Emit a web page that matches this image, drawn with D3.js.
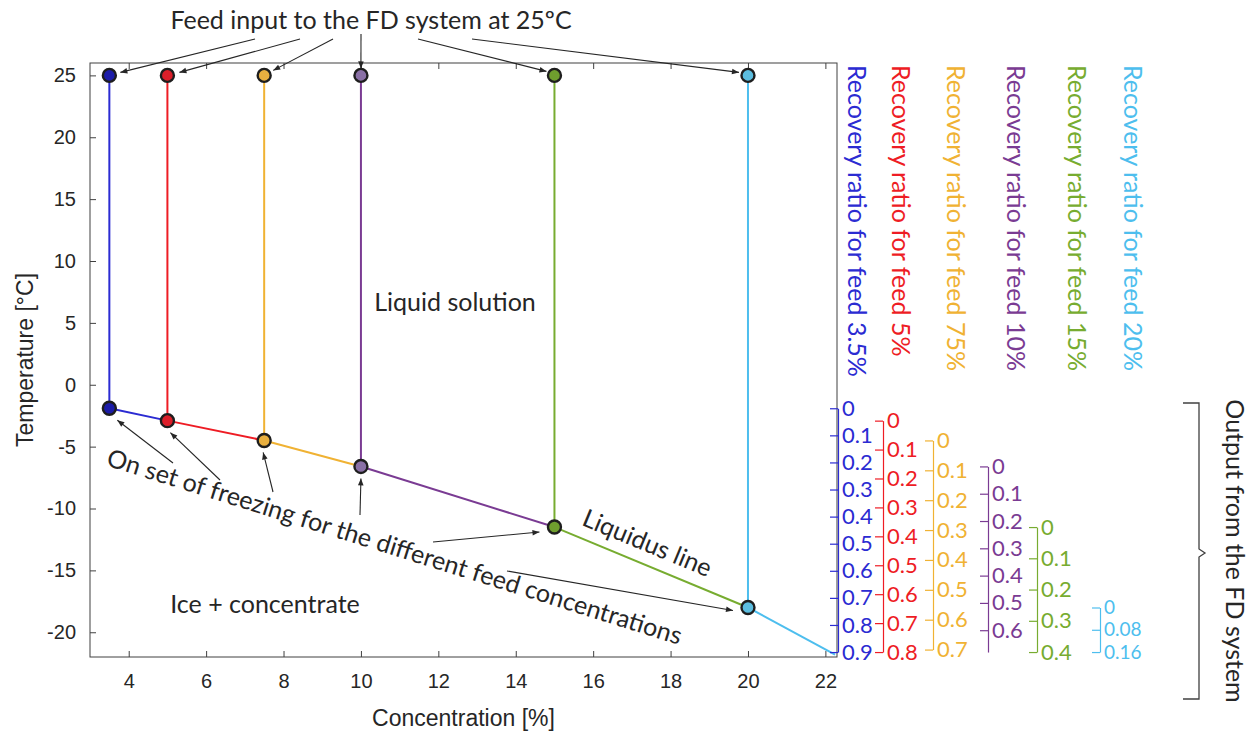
<!DOCTYPE html>
<meta charset="utf-8">
<style>
body { margin: 0; background: #fff; }
svg text { font-family: Lato, "Open Sans", sans-serif; }
.main-axis text { font-family: "Liberation Sans", Arial, sans-serif; font-size: 20px; fill: #262626; }
.main-axis path, .main-axis line { stroke: #404040; }
.ratio-axis text { font-family: Lato, sans-serif; font-size: 22px; }
.annot { font-size: 25px; fill: #262626; }
.arrow { stroke: #262626; stroke-width: 1.1; fill: none; }
</style>
<body>
<svg id="chart" width="1255" height="732"></svg>

<script src="https://d3js.org/d3.v7.min.js"></script>
<script>
// feeds entering the freeze desalination system at 25 C
var feedConc = [3.5, 5, 7.5, 10, 15, 20];
var feedNames = ["3.5%", "5%", "75%", "10%", "15%", "20%"];
var feedTemp = 25;
// onset of freezing (points on the liquidus line)
var freezeTemp = [-1.9, -2.9, -4.5, -6.6, -11.5, -18.0];
var liquidusEnd = [22.25, -21.8];

var xTicks = [4, 6, 8, 10, 12, 14, 16, 18, 20, 22];
var yTicks = [-20, -15, -10, -5, 0, 5, 10, 15, 20, 25];

// recovery ratio axes, one per feed
var ratioTicks = [
  [0, 0.1, 0.2, 0.3, 0.4, 0.5, 0.6, 0.7, 0.8, 0.9],
  [0, 0.1, 0.2, 0.3, 0.4, 0.5, 0.6, 0.7, 0.8],
  [0, 0.1, 0.2, 0.3, 0.4, 0.5, 0.6, 0.7],
  [0, 0.1, 0.2, 0.3, 0.4, 0.5, 0.6],
  [0, 0.1, 0.2, 0.3, 0.4],
  [0, 0.08, 0.16]
];
var ratioAxisMax = [0.9, 0.8, 0.7, 0.68, 0.4, 0.16];
var ratioAxisEndTemp = [-21.6, -21.6, -21.4, -21.6, -21.6, -21.6];

var colors = ["#2b2bd2", "#ee1c24", "#f0b233", "#7a3b93", "#77ac30", "#4dbeee"];
var markerFill = ["#1c1ca8", "#dc1f2a", "#e9b040", "#8a70a6", "#6f9e2e", "#5cbddf"];
var ratioFont = [22, 22, 22, 22, 22, 19];

var margin = {top: 63, left: 90},
    width = 747,
    height = 594;

var svg = d3.select("#chart");

var x = d3.scaleLinear().domain([3, 22.3]).range([margin.left, margin.left + width]);
var y = d3.scaleLinear().domain([-22, 26]).range([margin.top + height, margin.top]);

svg.append("defs").append("marker")
    .attr("id", "head")
    .attr("viewBox", "0 -5 10 10")
    .attr("refX", 10).attr("refY", 0)
    .attr("markerWidth", 9).attr("markerHeight", 7)
    .attr("markerUnits", "userSpaceOnUse")
    .attr("orient", "auto")
  .append("path")
    .attr("d", "M0,-4L10,0L0,4Z")
    .attr("fill", "#262626");

// plot box
svg.append("rect")
    .attr("x", margin.left).attr("y", margin.top)
    .attr("width", width).attr("height", height)
    .attr("fill", "none").attr("stroke", "#404040");

svg.append("g")
    .attr("class", "main-axis")
    .attr("transform", "translate(0," + (margin.top + height) + ")")
    .call(d3.axisBottom(x).tickValues(xTicks).tickSizeInner(-6).tickSizeOuter(0).tickPadding(17)
      .tickFormat(d => String(d)));

svg.append("g")
    .attr("class", "main-axis")
    .attr("transform", "translate(0," + margin.top + ")")
    .call(d3.axisTop(x).tickValues(xTicks).tickSizeInner(-6).tickSizeOuter(0).tickFormat(""));

svg.append("g")
    .attr("class", "main-axis")
    .attr("transform", "translate(" + margin.left + ",0)")
    .call(d3.axisLeft(y).tickValues(yTicks).tickSizeInner(-6).tickSizeOuter(0).tickPadding(14)
      .tickFormat(d => String(d)));

svg.selectAll(".main-axis .domain").remove();

svg.append("text")
    .attr("x", margin.left + width / 2).attr("y", 726)
    .attr("text-anchor", "middle")
    .style("font-family", "Liberation Sans, Arial")
    .style("font-size", "23px").style("fill", "#262626")
    .text("Concentration [%]");

svg.append("text")
    .attr("transform", "translate(33," + (margin.top + height / 2) + ") rotate(-90)")
    .attr("text-anchor", "middle")
    .style("font-family", "Liberation Sans, Arial")
    .style("font-size", "23px").style("fill", "#262626")
    .text("Temperature [\u00B0C]");

// vertical cooling lines from the feed down to the liquidus
svg.selectAll(".feedline")
    .data(feedConc)
  .enter().append("line")
    .attr("class", "feedline")
    .attr("x1", d => x(d)).attr("x2", d => x(d))
    .attr("y1", y(feedTemp))
    .attr("y2", (d, i) => y(freezeTemp[i]))
    .attr("stroke", (d, i) => colors[i])
    .attr("stroke-width", 2);

// liquidus line, coloured piece by piece
var liqX = feedConc.concat([liquidusEnd[0]]);
var liqT = freezeTemp.concat([liquidusEnd[1]]);
for (var i = 0; i < feedConc.length; i++) {
  svg.append("line")
      .attr("x1", x(liqX[i])).attr("y1", y(liqT[i]))
      .attr("x2", x(liqX[i + 1])).attr("y2", y(liqT[i + 1]))
      .attr("stroke", colors[i])
      .attr("stroke-width", 2);
}

// markers at 25 C and at onset of freezing
[feedConc.map(() => feedTemp), freezeTemp].forEach(function(temps) {
  svg.append("g").selectAll("circle")
      .data(feedConc)
    .enter().append("circle")
      .attr("cx", d => x(d))
      .attr("cy", (d, i) => y(temps[i]))
      .attr("r", 6.5)
      .attr("fill", (d, i) => markerFill[i])
      .attr("stroke", "#1e1e1e")
      .attr("stroke-width", 2.4);
});

// recovery ratio axes
var ratioAxisX = [838, 883, 933, 988, 1037, 1100];
var ratioTitleX = [858, 902, 957, 1017, 1078, 1134];
feedConc.forEach(function(c, i) {
  var r = d3.scaleLinear()
      .domain([0, ratioAxisMax[i]])
      .range([y(freezeTemp[i]), y(ratioAxisEndTemp[i])]);
  var g = svg.append("g")
      .attr("class", "ratio-axis")
      .attr("transform", "translate(" + ratioAxisX[i] + ",0)")
      .call(d3.axisRight(r).tickValues(ratioTicks[i]).tickSizeInner(-8).tickSizeOuter(0).tickPadding(4)
        .tickFormat(d => String(+d.toFixed(2))));
  g.selectAll("path, line").attr("stroke", colors[i]).attr("stroke-width", 1.2);
  g.selectAll("text").attr("fill", colors[i]).style("font-size", ratioFont[i] + "px");

  svg.append("text")
      .attr("transform", "translate(" + ratioTitleX[i] + ",65) rotate(90)")
      .attr("dominant-baseline", "central")
      .style("font-size", "25px")
      .attr("fill", colors[i])
      .text("Recovery ratio for feed " + feedNames[i]);
});

// brace and label for the outputs
svg.append("path")
    .attr("d", "M1183,403H1199V549L1205,553L1199,557V699H1183")
    .attr("fill", "none").attr("stroke", "#404040").attr("stroke-width", 1.3);
svg.append("text")
    .attr("transform", "translate(1236,551) rotate(90)")
    .attr("text-anchor", "middle")
    .attr("dominant-baseline", "central")
    .attr("class", "annot")
    .text("Output from the FD system");

// annotations
svg.append("text")
    .attr("class", "annot")
    .attr("x", 371).attr("y", 29)
    .attr("text-anchor", "middle")
    .text("Feed input to the FD system at 25\u00BAC");

var topArrowStart = [[255, 39], [300, 39], [333, 39], [361, 34], [418, 39], [472, 39]];
var topArrowEnd = [[11, -3], [12, -3], [9, -5], [0, -7], [-8, -4], [-9, -3]];
feedConc.forEach(function(c, i) {
  svg.append("line")
      .attr("class", "arrow")
      .attr("x1", topArrowStart[i][0]).attr("y1", topArrowStart[i][1])
      .attr("x2", x(c) + topArrowEnd[i][0]).attr("y2", y(feedTemp) + topArrowEnd[i][1])
      .attr("marker-end", "url(#head)");
});

var lowArrowStart = [[173, 463], [220, 480], [273, 492], [360, 515], [433, 542], [507, 571]];
var lowArrowEnd = [[8, 12], [3, 12], [-1, 12], [0, 12], [-15, 5], [-15, 3]];
feedConc.forEach(function(c, i) {
  svg.append("line")
      .attr("class", "arrow")
      .attr("x1", lowArrowStart[i][0]).attr("y1", lowArrowStart[i][1])
      .attr("x2", x(c) + lowArrowEnd[i][0]).attr("y2", y(freezeTemp[i]) + lowArrowEnd[i][1])
      .attr("marker-end", "url(#head)");
});

svg.append("text")
    .attr("class", "annot")
    .attr("transform", "translate(392,555) rotate(17.4)")
    .attr("text-anchor", "middle")
    .text("On set of freezing for the different feed concentrations");

svg.append("text")
    .attr("class", "annot")
    .attr("transform", "translate(644,551) rotate(22.5)")
    .attr("text-anchor", "middle")
    .text("Liquidus line");

svg.append("text")
    .attr("class", "annot")
    .attr("x", 455).attr("y", 311)
    .attr("text-anchor", "middle")
    .text("Liquid solution");

svg.append("text")
    .attr("class", "annot")
    .attr("x", 265).attr("y", 613)
    .attr("text-anchor", "middle")
    .text("Ice + concentrate");
</script>
</body>
